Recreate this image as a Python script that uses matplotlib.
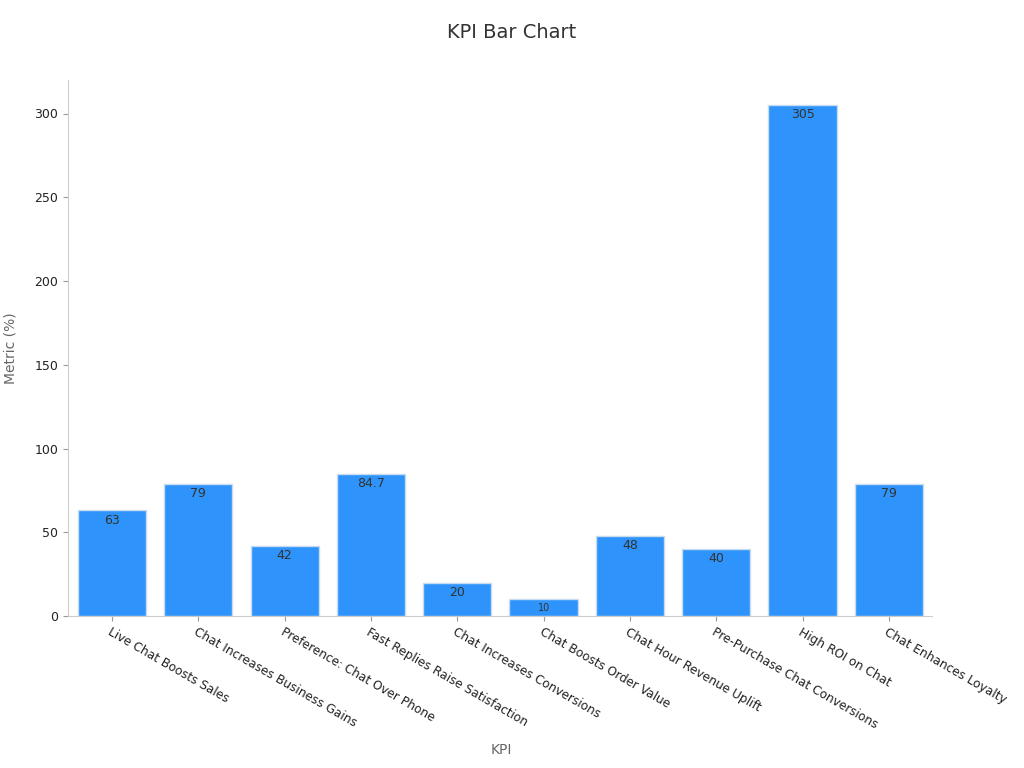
import matplotlib
matplotlib.use("Agg")
import matplotlib.pyplot as plt

categories = ["Live Chat Boosts Sales", "Chat Increases Business Gains",
              "Preference: Chat Over Phone", "Fast Replies Raise Satisfaction",
              "Chat Increases Conversions", "Chat Boosts Order Value",
              "Chat Hour Revenue Uplift", "Pre-Purchase Chat Conversions",
              "High ROI on Chat", "Chat Enhances Loyalty"]
values = [63, 79, 42, 84.7, 20, 10, 48, 40, 305, 79]
labels = ["63", "79", "42", "84.7", "20", "10", "48", "40", "305", "79"]

fig = plt.figure(figsize=(10.24, 7.68), dpi=100)
ax = fig.add_axes([68/1024, 1 - 616/768, (932-68)/1024, (616-80)/768])

x = list(range(len(categories)))
bars = ax.bar(x, values, width=0.79, color="#2E93FA", edgecolor="#c8dcf0", linewidth=1)
for b, v, t in zip(bars, values, labels):
    fs = 7 if v < 15 else 9
    ax.text(b.get_x() + b.get_width()/2, v - 2, t, ha="center", va="top",
            fontsize=fs, color="#333333")

ax.set_xlim(-0.51, 9.5)
ax.set_ylim(0, 320)
ax.set_xticks(x)
ax.set_xticklabels(categories, rotation=-30, ha="left", rotation_mode="anchor",
                   fontsize=8.7, color="#222222")
ax.set_yticks([0, 50, 100, 150, 200, 250, 300])
ax.tick_params(axis="y", labelsize=9, colors="#222222")
ax.tick_params(color="#999999")
for s in ["top", "right"]:
    ax.spines[s].set_visible(False)
for s in ["left", "bottom"]:
    ax.spines[s].set_color("#cccccc")

ax.set_ylabel("Metric (%)", fontsize=10, color="#666666", labelpad=12)
fig.text(501/1024, 1 - 750/768, "KPI", ha="center", va="center",
         fontsize=10, color="#666666")
fig.text(0.5, 1 - 33/768, "KPI Bar Chart", ha="center", va="center",
         fontsize=14, color="#333333")

fig.savefig("out.png", dpi=100)
